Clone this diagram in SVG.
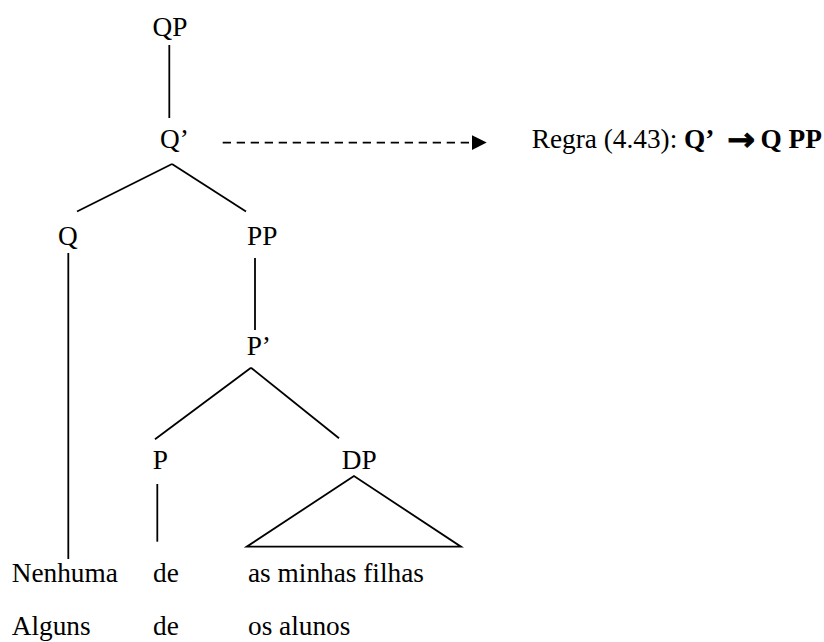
<svg xmlns="http://www.w3.org/2000/svg" width="824" height="642" viewBox="0 0 824 642">
<style>
text{font-family:'Liberation Serif','Times New Roman',Times,serif;font-size:27.3px;fill:#000}
.b{font-weight:bold}
.ln line,.ln polygon{stroke:#000;stroke-width:1.8;fill:none;stroke-linecap:butt}
.dash{stroke:#000;stroke-width:2;stroke-dasharray:8.3 5.7}
.arr{font-family:'DejaVu Sans',sans-serif;font-size:31px;font-weight:bold;stroke:#000;stroke-width:0.9}
</style>
<defs>
<marker id="ah" viewBox="0 0 15 15" refX="0" refY="7.5" markerWidth="15" markerHeight="15" markerUnits="userSpaceOnUse" orient="auto">
<path d="M0,0 L15,7.5 L0,15 Z" fill="#000"/>
</marker>
</defs>
<g id="connectors" class="ln">
<line x1="169.3" y1="45" x2="169.3" y2="118"/>
<line x1="172" y1="164" x2="77" y2="211.5"/>
<line x1="172" y1="164" x2="246" y2="211.5"/>
<line x1="68.3" y1="253" x2="68.3" y2="559"/>
<line x1="255" y1="258" x2="255" y2="330"/>
<line x1="251" y1="367.7" x2="155" y2="439.3"/>
<line x1="251" y1="367.7" x2="339" y2="438.3"/>
<line x1="157.3" y1="484" x2="157.3" y2="541.7"/>
<polygon points="354,476 246.7,546.7 461,546.7"/>
<line class="dash" x1="222.7" y1="142.6" x2="471.7" y2="142.6" marker-end="url(#ah)"/>
</g>
<g id="QP"><text x="152.5" y="35.7">QP</text></g>
<g id="Qbar"><text x="160" y="148">Q’</text></g>
<g id="Q"><text x="58" y="245">Q</text></g>
<g id="PP"><text x="247" y="245">PP</text></g>
<g id="Pbar"><text x="246.7" y="355">P’</text></g>
<g id="P"><text x="152.7" y="468.5">P</text></g>
<g id="DP"><text x="341.7" y="468.5">DP</text></g>
<g id="rule">
<text x="531.7" y="148.3">Regra (4.43): <tspan class="b">Q’</tspan></text>
<text x="727" y="149.5" class="arr" textLength="28" lengthAdjust="spacingAndGlyphs">→</text>
<text x="760.5" y="148.3" class="b">Q PP</text>
</g>
<g id="words">
<text x="11.7" y="581.7">Nenhuma</text>
<text x="153" y="581.7">de</text>
<text x="248" y="581.7">as minhas filhas</text>
<text x="11.7" y="635">Alguns</text>
<text x="153" y="635">de</text>
<text x="248" y="635">os alunos</text>
</g>
</svg>
